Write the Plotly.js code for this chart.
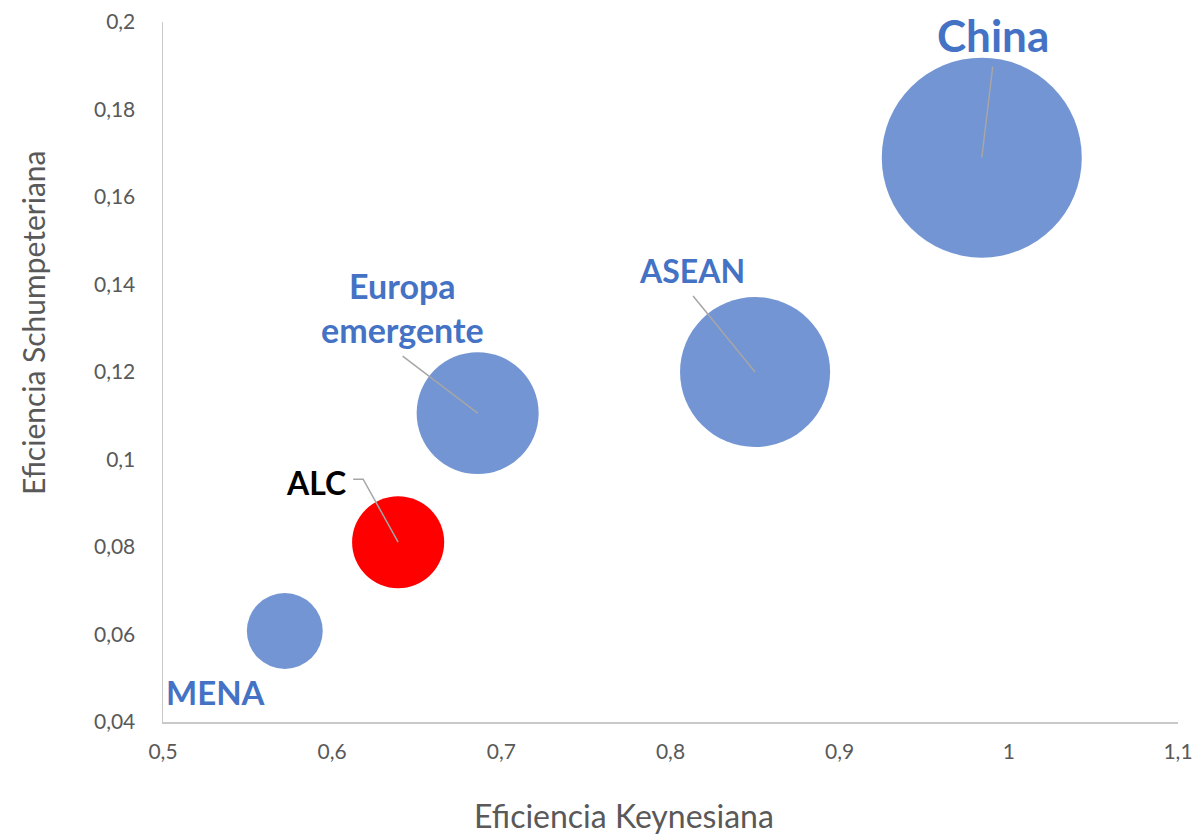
<!DOCTYPE html>
<html>
<head>
<meta charset="utf-8">
<script src="https://cdn.plot.ly/plotly-3.0.1.min.js"></script>
<style>
  html, body { margin: 0; padding: 0; background: #ffffff; }
  #chart { width: 1194px; height: 835px; }
</style>
</head>
<body>
<div id="chart"></div>
<script>
// Regiones y sus eficiencias
const regiones = ['MENA', 'ALC', 'Europa emergente', 'ASEAN', 'China'];
const eficienciaKeynesiana = [0.572, 0.639, 0.686, 0.850, 0.984];
const eficienciaSchumpeteriana = [0.0608, 0.0811, 0.1106, 0.1200, 0.1690];
// Tamaño relativo de cada burbuja (proporcional al área)
const tamanoBurbuja = [14.4, 21.2, 37.2, 56.3, 100];
const etiquetas = ['MENA', 'ALC', 'Europa<br>emergente', 'ASEAN', 'China'];
const tituloX = 'Eficiencia Keynesiana';
const tituloY = 'Eficiencia Schumpeteriana';

// Estilo por región
const AZUL = 'rgba(68,114,196,0.75)';
const AZUL_TEXTO = '#4472C4';
const coloresBurbuja = [AZUL, '#FF0000', AZUL, AZUL, AZUL];
const coloresEtiqueta = [AZUL_TEXTO, '#000000', AZUL_TEXTO, AZUL_TEXTO, AZUL_TEXTO];
const tamanoFuente = [33, 32, 34, 32, 44];
// Desplazamiento de cada etiqueta respecto al centro de su burbuja (px, y hacia arriba)
const desplazamiento = [[-69, -61], [-82, 60], [-75, 106], [-63, 102], [11, 123]];
// Líneas guía (px relativos al centro de la burbuja); null = sin línea
const guias = [null, 'M0,0L-35,63L-45,63', 'M0,0L-75,57', 'M0,0L-62,76', 'M0,0L11,91'];

const DIAMETRO_MAX = 200;
const sizeref = 2 * Math.max(...tamanoBurbuja) / (DIAMETRO_MAX * DIAMETRO_MAX);

const trace = {
  type: 'scatter',
  mode: 'markers',
  x: eficienciaKeynesiana,
  y: eficienciaSchumpeteriana,
  text: regiones,
  hoverinfo: 'text',
  marker: {
    size: tamanoBurbuja,
    sizemode: 'area',
    sizeref: sizeref,
    color: coloresBurbuja,
    opacity: 1,
    line: { width: 0 }
  },
  cliponaxis: false
};

const annotations = regiones.map((r, i) => ({
  x: eficienciaKeynesiana[i],
  y: eficienciaSchumpeteriana[i],
  xref: 'x', yref: 'y',
  text: etiquetas[i],
  showarrow: false,
  xshift: desplazamiento[i][0],
  yshift: desplazamiento[i][1],
  xanchor: 'center', yanchor: 'middle',
  align: 'center',
  font: { family: 'Lato, sans-serif', size: tamanoFuente[i], color: coloresEtiqueta[i], weight: 700 }
}));

// Títulos de los ejes, centrados sobre el área del gráfico
annotations.push({
  xref: 'paper', yref: 'paper', x: 0.4542, y: -0.1329,
  text: tituloX, showarrow: false, xanchor: 'center', yanchor: 'middle',
  font: { family: 'Lato, sans-serif', size: 32, color: '#595959' }
});
annotations.push({
  xref: 'paper', yref: 'paper', x: -0.1281, y: 0.5714,
  text: tituloY, showarrow: false, xanchor: 'center', yanchor: 'middle',
  textangle: -90,
  font: { family: 'Lato, sans-serif', size: 30, color: '#595959' }
});

const shapes = [];
guias.forEach((p, i) => {
  if (!p) return;
  shapes.push({
    type: 'path',
    xref: 'x', yref: 'y',
    xsizemode: 'pixel', ysizemode: 'pixel',
    xanchor: eficienciaKeynesiana[i],
    yanchor: eficienciaSchumpeteriana[i],
    path: p,
    line: { color: '#A6A6A6', width: 1.5 },
    layer: 'above'
  });
});

const tickFont = { family: 'Lato, sans-serif', size: 21, color: '#595959' };

const layout = {
  width: 1194,
  height: 835,
  margin: { l: 163, r: 16, t: 22, b: 113 },
  paper_bgcolor: '#ffffff',
  plot_bgcolor: '#ffffff',
  separators: ', ',
  showlegend: false,
  xaxis: {
    range: [0.5, 1.1],
    dtick: 0.1,
    tick0: 0.5,
    showgrid: false,
    zeroline: false,
    showline: true,
    linecolor: '#C9C9C9',
    linewidth: 1.5,
    ticks: '',
    ticklabelstandoff: 10,
    ticklabeloverflow: 'allow',
    tickfont: tickFont
  },
  yaxis: {
    range: [0.04, 0.2],
    dtick: 0.02,
    tick0: 0.04,
    showgrid: false,
    zeroline: false,
    showline: true,
    linecolor: '#C9C9C9',
    linewidth: 1.5,
    ticks: '',
    ticklabelstandoff: 22,
    tickfont: tickFont
  },
  annotations: annotations,
  shapes: shapes
};

Plotly.newPlot('chart', [trace], layout, { displayModeBar: false, staticPlot: true });
</script>
</body>
</html>
